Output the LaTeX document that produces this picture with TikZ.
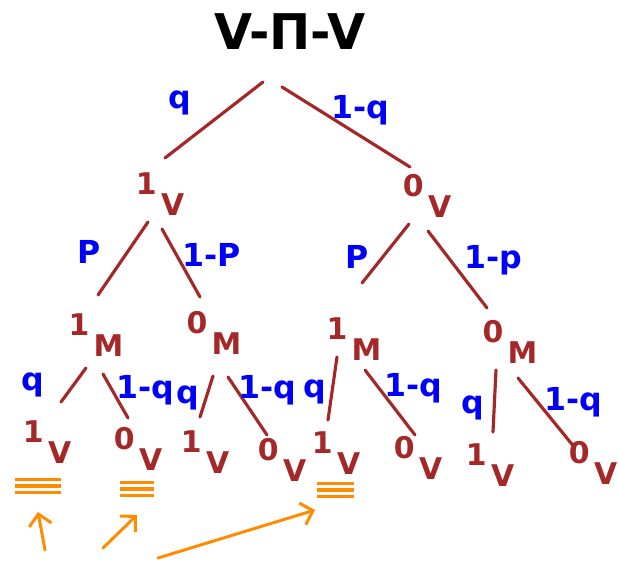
\documentclass[tikz,border=0pt]{standalone}
\usepackage{fontspec}
\setmainfont{DejaVu Sans}
\usepackage{tikz}
\usetikzlibrary{arrows.meta}
\definecolor{sketchred}{RGB}{165,40,40}
\definecolor{sketchblue}{RGB}{0,0,250}
\definecolor{sketchorange}{RGB}{255,140,0}
\newcommand{\outcome}[2]{#1\hspace{2.5pt}\raisebox{-0.7em}{#2}}
\newcommand{\tallyrules}[1]{\vbox{\hrule width #1 height 1.8pt\vskip 1.8pt\hrule width #1 height 1.8pt\vskip 1.8pt\hrule width #1 height 1.8pt}}

\begin{document}
\begin{tikzpicture}[
x=0.02cm, y=-0.02cm,
heading/.style={font=\fontsize{28}{32}\selectfont\bfseries, text=black, inner sep=0pt},
outcome/.style={font=\fontsize{17}{19}\selectfont\bfseries, text=sketchred, inner sep=0pt},
prob/.style={font=\fontsize{18}{20}\selectfont\bfseries, text=sketchblue, inner sep=0pt},
branch/.style={sketchred, line width=1.8pt, line cap=round},
tally/.style={text=sketchorange, inner sep=0pt},
hint/.style={-{Straight Barb[length=2.2mm,width=4.5mm]}, sketchorange, line width=1.7pt, line cap=round}
]
\useasboundingbox (0,0) rectangle (618,561);

\node[heading] (root) at (290,32) {V-Π-V};

\node[outcome] (a) at (160,194) {\outcome{1}{V}};
\node[outcome] (b) at (427,196) {\outcome{0}{V}};
\draw[branch] ([shift={(-27,50)}]root.center) -- ([shift={(5,-36)}]a.center);
\draw[branch] ([shift={(-8,55)}]root.center) -- ([shift={(-17,-29)}]b.center);
\node[prob] (qa) at (180,103) {q};
\node[prob] (nqa) at (360,110) {1-q};

\node[outcome] (aa) at (96,335) {\outcome{1}{M}};
\node[outcome] (ab) at (214,333) {\outcome{0}{M}};
\node[outcome] (ba) at (354,339) {\outcome{1}{M}};
\node[outcome] (bb) at (510,342) {\outcome{0}{M}};
\draw[branch] ([shift={(-12,28)}]a.center) -- ([shift={(2,-40)}]aa.center);
\draw[branch] ([shift={(2,35)}]a.center) -- ([shift={(-14,-36)}]ab.center);
\draw[branch] ([shift={(-18,28)}]b.center) -- ([shift={(8,-56)}]ba.center);
\draw[branch] ([shift={(1,35)}]b.center) -- ([shift={(-23,-34)}]bb.center);
\node[prob] (pa) at (89,252) {P};
\node[prob] (npa) at (212,255) {1-P};
\node[prob] (pb) at (357,257) {P};
\node[prob] (npb) at (493,260) {1-p};

\node[outcome] (aaa) at (47,442) {\outcome{1}{V}};
\node[outcome] (aab) at (138,449) {\outcome{0}{V}};
\node[outcome] (aba) at (205,452) {\outcome{1}{V}};
\node[outcome] (abb) at (282,460) {\outcome{0}{V}};
\node[outcome] (baa) at (336,453) {\outcome{1}{V}};
\node[outcome] (bab) at (418,458) {\outcome{0}{V}};
\node[outcome] (bba) at (490,465) {\outcome{1}{V}};
\node[outcome] (bbb) at (593,463) {\outcome{0}{V}};
\draw[branch] ([shift={(-10,33)}]aa.center) -- ([shift={(14,-40)}]aaa.center);
\draw[branch] ([shift={(7,39)}]aa.center) -- ([shift={(-10,-31)}]aab.center);
\draw[branch] ([shift={(-1,43)}]ab.center) -- ([shift={(-5,-35)}]aba.center);
\draw[branch] ([shift={(14,44)}]ab.center) -- ([shift={(-15,-25)}]abb.center);
\draw[branch] ([shift={(-17,18)}]ba.center) -- ([shift={(-8,-33)}]baa.center);
\draw[branch] ([shift={(11,31)}]ba.center) -- ([shift={(-3,-23)}]bab.center);
\draw[branch] ([shift={(-14,28)}]bb.center) -- ([shift={(3,-33)}]bba.center);
\draw[branch] ([shift={(8,36)}]bb.center) -- ([shift={(-18,-15)}]bbb.center);
\node[prob] (qaa) at (33,385) {q};
\node[prob] (nqaa) at (145,390) {1-q};
\node[prob] (qab) at (188,398) {q};
\node[prob] (nqab) at (267,390) {1-q};
\node[prob] (qba) at (315,392) {q};
\node[prob] (nqba) at (413,388) {1-q};
\node[prob] (qbb) at (473,408) {q};
\node[prob] (nqbb) at (573,402) {1-q};

\node[tally] (m1) at (38,486) {\tallyrules{0.94cm}};
\node[tally] (m2) at (137,489) {\tallyrules{0.7cm}};
\node[tally] (m3) at (335,490) {\tallyrules{0.74cm}};
\coordinate (h1) at (45,550);
\coordinate (h2) at (103,548);
\coordinate (h3) at (158,558);
\draw[hint] (h1) -- ([shift={(0,26)}]m1.center);
\draw[hint] (h2) -- ([shift={(0,26)}]m2.center);
\draw[hint] (h3) -- ([shift={(-20,20)}]m3.center);
\end{tikzpicture}
\end{document}
